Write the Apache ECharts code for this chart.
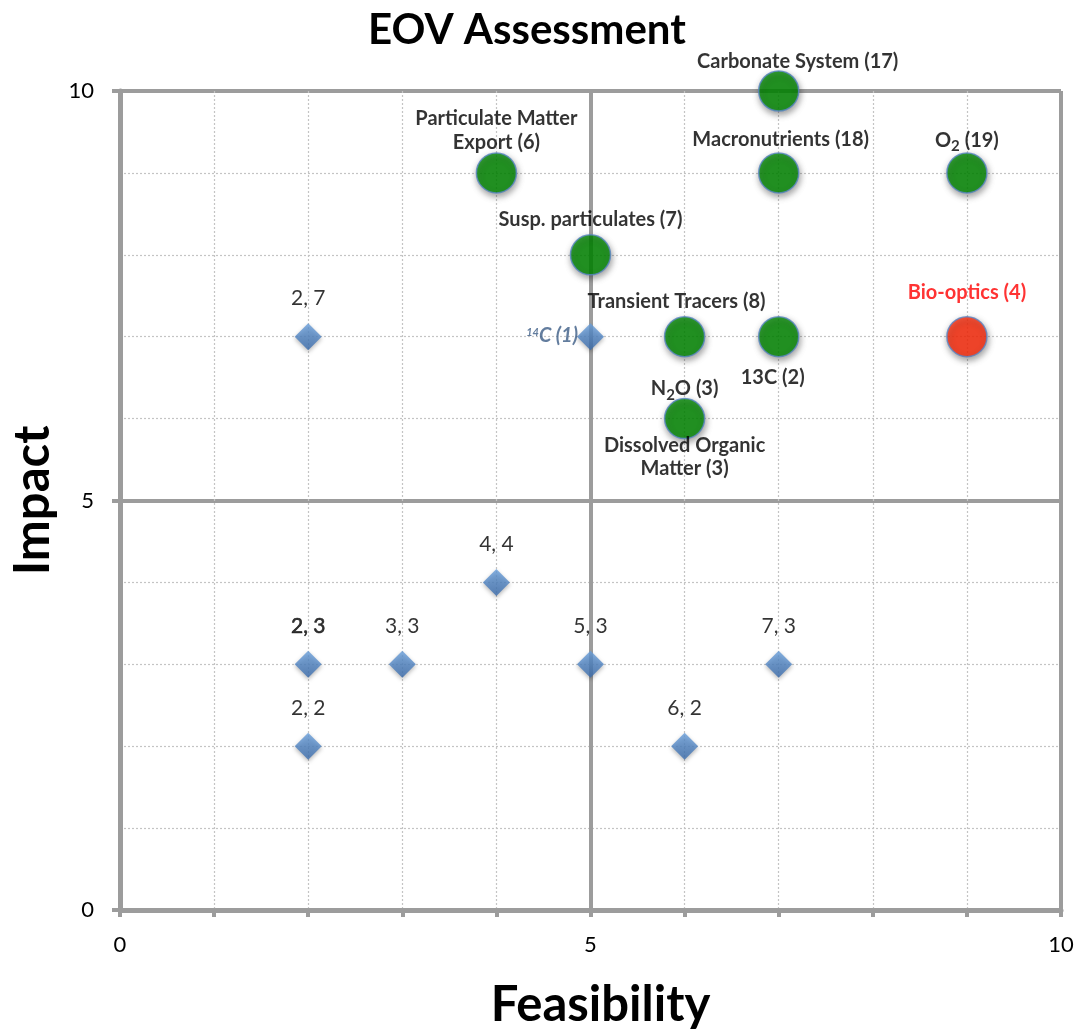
<!DOCTYPE html>
<html><head><meta charset="utf-8">
<script src="https://cdn.jsdelivr.net/npm/echarts@6/dist/echarts.min.js"></script>
<style>html,body{margin:0;padding:0;background:#fff}#c{width:1078px;height:1030px}</style>
</head><body><div id="c"></div>
<script>
// ---- data ----
const chartTitle = 'EOV Assessment';
const xAxisName = 'Feasibility';
const yAxisName = 'Impact';
const axisMin = 0, axisMax = 10;

const circleLabels = ['Carbonate System (17)', 'Macronutrients (18)', 'O2 (19)', 'Particulate Matter\nExport (6)', 'Susp. particulates (7)', 'Transient Tracers (8)', '13C (2)', 'N2O (3)'];
const circleFeasibility = [7, 7, 9, 4, 5, 6, 7, 6];
const circleImpact = [10, 9, 9, 9, 8, 7, 7, 6];

const secondLabels = ['Dissolved Organic\nMatter (3)'];
const secondFeasibility = [6];
const secondImpact = [6];

const redLabels = ['Bio-optics (4)'];
const redFeasibility = [9];
const redImpact = [7];

const diamondLabels = ['2, 7', '14C (1)', '4, 4', '2, 3', '3, 3', '5, 3', '7, 3', '2, 2', '6, 2'];
const diamondFeasibility = [2, 5, 4, 2, 3, 5, 7, 2, 6];
const diamondImpact = [7, 7, 4, 3, 3, 3, 3, 2, 2];

// ---- presentation ----
const FONT = 'Lato, "Open Sans", sans-serif';
const richFmt = {
  'O2 (19)': '{t|O}{s|2}{t| (19)}',
  'N2O (3)': '{t|N}{s|2}{t|O (3)}',
  '14C (1)': '{sup|14}{it|C (1)}'
};
const boldRich = {
  t: { fontSize: 20, fontWeight: 'bold', fontFamily: FONT, color: '#000', lineHeight: 22, verticalAlign: 'top' },
  s: { fontSize: 15, fontWeight: 'bold', fontFamily: FONT, color: '#000', verticalAlign: 'top', padding: [9, 0, 0, 0] },
  sup: { fontSize: 11, fontWeight: 'bold', fontStyle: 'italic', fontFamily: FONT, color: '#3c5c86', verticalAlign: 'top', padding: [1, 0, 0, 0] },
  it: { fontSize: 20, fontWeight: 'bold', fontStyle: 'italic', fontFamily: FONT, color: '#3c5c86', lineHeight: 22, verticalAlign: 'top' }
};
const circleLabelStyle = [
  { distance: -2, offset: [19, 0] },
  { distance: 2, offset: [2, 0] },
  { distance: 0 },
  { distance: -2, lineHeight: 24 },
  { distance: 4 },
  { distance: 3, offset: [-8, 0] },
  { position: 'bottom', distance: 9, offset: [-6, 0] },
  { distance: -3 }
];
function fmt(p) { return richFmt[p.name] || p.name; }

const baseBold = { show: true, position: 'top', fontSize: 20, lineHeight: 22, fontWeight: 'bold', fontFamily: FONT, color: '#000', formatter: fmt, rich: boldRich };

const circleData = circleFeasibility.map((x, i) => ({
  value: [x, circleImpact[i]], name: circleLabels[i],
  label: Object.assign({}, baseBold, circleLabelStyle[i])
}));
const secondData = secondFeasibility.map((x, i) => ({ value: [x, secondImpact[i]], name: secondLabels[i] }));
const redData = redFeasibility.map((x, i) => ({ value: [x, redImpact[i]], name: redLabels[i] }));
const diamondData = diamondFeasibility.map((x, i) => {
  const d = { value: [x, diamondImpact[i]], name: diamondLabels[i] };
  if (diamondLabels[i] === '14C (1)') d.label = { position: 'left', distance: -1 };
  if (diamondLabels[i] === '2, 3') d.label = { textBorderColor: '#000', textBorderWidth: 0.6 };
  return d;
});

const chart = echarts.init(document.getElementById('c'), null, { renderer: 'canvas' });
const gridCol = '#9c9c9c';
chart.setOption({
  backgroundColor: '#fff',
  animation: false,
  title: { text: chartTitle, left: 363, top: 4, textStyle: { fontSize: 42, fontWeight: 'bold', fontFamily: FONT, color: '#000' } },
  grid: { left: 120, right: 17, top: 91, bottom: 120, containLabel: false, outerBoundsMode: 'none' },
  xAxis: [
    { type: 'value', min: axisMin, max: axisMax, interval: 1,
      name: xAxisName, nameLocation: 'middle', nameGap: 71,
      nameTextStyle: { fontSize: 49, fontWeight: 'bold', fontFamily: FONT, color: '#000', padding: [0, 0, 0, 20] },
      axisLine: { show: true, onZero: false, lineStyle: { color: gridCol, width: 5 } },
      axisTick: { show: true, inside: false, length: 7, lineStyle: { color: gridCol, width: 4 } },
      axisLabel: { show: false },
      splitLine: { show: true, lineStyle: { color: '#c4c4c4', width: 1.2, type: [2, 2] } } },
    { type: 'value', min: axisMin, max: axisMax, interval: 5, position: 'bottom',
      axisLine: { show: false }, axisTick: { show: false },
      axisLabel: { show: true, fontSize: 22, color: '#000', margin: 24, fontFamily: FONT },
      splitLine: { show: true, lineStyle: { color: gridCol, width: 4 } } }
  ],
  yAxis: [
    { type: 'value', min: axisMin, max: axisMax, interval: 1,
      axisLine: { show: true, onZero: false, lineStyle: { color: gridCol, width: 5 } },
      axisTick: { show: false }, axisLabel: { show: false },
      splitLine: { show: true, lineStyle: { color: '#c4c4c4', width: 1.2, type: [2, 2] } } },
    { type: 'value', min: axisMin, max: axisMax, interval: 5, position: 'left',
      name: yAxisName, nameLocation: 'middle', nameGap: 60, nameRotate: 90,
      nameTextStyle: { fontSize: 49, fontWeight: 'bold', fontFamily: FONT, color: '#000' },
      axisLine: { show: false },
      axisTick: { show: true, length: 8, lineStyle: { color: gridCol, width: 4 } },
      axisLabel: { show: true, fontSize: 22, color: '#000', margin: 26, fontFamily: FONT },
      splitLine: { show: true, lineStyle: { color: gridCol, width: 4 } } }
  ],
  series: [
    { type: 'scatter', name: 'diamonds', xAxisIndex: 0, yAxisIndex: 0, symbol: 'diamond', symbolSize: 27, z: 3,
      itemStyle: { color: new echarts.graphic.LinearGradient(0, 0, 0, 1, [{ offset: 0, color: '#6aa0dc' }, { offset: 1, color: '#3a6cad' }]),
        shadowBlur: 4, shadowColor: 'rgba(0,0,0,0.35)', shadowOffsetY: 2 },
      label: { show: true, position: 'top', distance: 14, fontSize: 21, fontFamily: FONT, color: '#000', formatter: fmt, rich: boldRich },
      data: diamondData },
    { type: 'scatter', name: 'circles', xAxisIndex: 0, yAxisIndex: 0, symbol: 'circle', symbolSize: 40, z: 4,
      itemStyle: { color: '#008a00', borderColor: '#5a86c4', borderWidth: 1.5, shadowBlur: 6, shadowColor: 'rgba(0,0,0,0.45)', shadowOffsetY: 3, shadowOffsetX: 1 },
      data: circleData },
    { type: 'scatter', name: 'circles-below', xAxisIndex: 0, yAxisIndex: 0, symbol: 'circle', symbolSize: 40, z: 5, silent: true,
      itemStyle: { color: 'rgba(0,0,0,0)' },
      label: { show: true, position: 'bottom', distance: -5, formatter: '{b}', fontSize: 20, fontWeight: 'bold', fontFamily: FONT, color: '#000', lineHeight: 23 },
      data: secondData },
    { type: 'scatter', name: 'red', xAxisIndex: 0, yAxisIndex: 0, symbol: 'circle', symbolSize: 40, z: 4,
      itemStyle: { color: '#ff2a0a', borderColor: '#5a86c4', borderWidth: 1.5, shadowBlur: 6, shadowColor: 'rgba(0,0,0,0.45)', shadowOffsetY: 3, shadowOffsetX: 1 },
      label: { show: true, position: 'top', distance: 12, formatter: '{b}', fontSize: 20, lineHeight: 22, fontWeight: 'bold', fontFamily: FONT, color: '#ff0000' },
      data: redData }
  ]
});
</script>
</body></html>
